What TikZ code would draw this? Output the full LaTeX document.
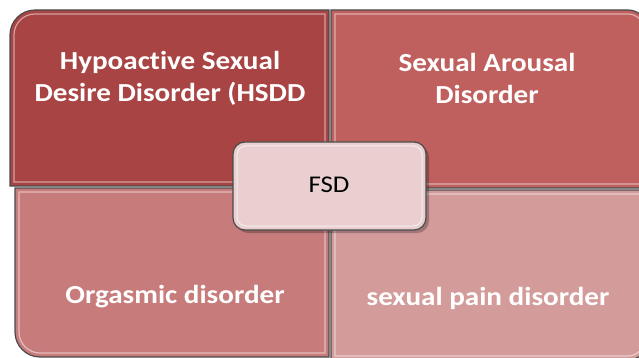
\documentclass[tikz,border=0pt]{standalone}
\usepackage{fontspec}
\setmainfont{Carlito}[FakeStretch=1.12, Ligatures=NoCommon]
\definecolor{cTL}{HTML}{A84443}
\definecolor{cTR}{HTML}{BF605F}
\definecolor{cBL}{HTML}{C77B7B}
\definecolor{cBR}{HTML}{D49B9B}
\definecolor{cC}{HTML}{E9CFD0}
\definecolor{edge}{HTML}{4A4A4A}
\tikzset{
  quad/.style={draw=edge, line width=1.2pt},
  hilite/.style={draw=white, draw opacity=0.5, line width=1.2pt},
  qtext/.style={text=white, font=\bfseries\fontsize{26}{32}\selectfont, align=center, inner sep=0pt},
  ctext/.style={text=black, font=\fontsize{24}{28}\selectfont, inner sep=0pt},
}
\begin{document}
\begin{tikzpicture}[x=1pt,y=-1pt]
\useasboundingbox (0,0) rectangle (639,358);
\clip (0,0) rectangle (639,358);
% top-left
\path[quad, fill=cTL] (10,186) [rounded corners=25pt] -- (10,10) [sharp corners] -- (329,10) -- (329,186) -- cycle;
\draw[hilite] (14,182) [rounded corners=21pt] -- (14,14) [sharp corners] -- (325,14) -- (325,182) -- cycle;
% top-right
\path[quad, fill=cTR] (331,10) [rounded corners=20pt] -- (648,10) [sharp corners] -- (648,188) -- (331,188) -- cycle;
\draw[hilite] (335,184) -- (335,14) [rounded corners=16pt] -- (644,14) [sharp corners] -- (644,184) -- cycle;
% bottom-left
\path[quad, fill=cBL] (15,188) -- (329,188) -- (329,357) [rounded corners=25pt] -- (15,357) [sharp corners] -- cycle;
\draw[hilite] (19,192) -- (325,192) -- (325,353) [rounded corners=21pt] -- (19,353) [sharp corners] -- cycle;
% bottom-right
\path[quad, fill=cBR] (331,190) -- (648,190) [rounded corners=20pt] -- (648,360) [sharp corners] -- (331,360) -- cycle;
\draw[hilite] (335,194) -- (644,194) [rounded corners=16pt] -- (644,356) [sharp corners] -- (335,356) -- cycle;
% center shadow and box
\fill[black, opacity=0.25, rounded corners=12pt] (236,145) rectangle (429,233);
\path[draw=edge, line width=1.2pt, fill=cC, rounded corners=12pt] (233,142) rectangle (426,230);
\draw[white, opacity=0.6, line width=1pt, rounded corners=9pt] (237,146) rectangle (422,226);
% texts
\node[qtext] (tl) at (170,78) {Hypoactive Sexual\\Desire Disorder (HSDD};
\node[qtext] (tr) at (487,78) {Sexual Arousal\\Disorder};
\node[qtext, anchor=base] (bl) at (175,303) {Orgasmic disorder};
\node[qtext, anchor=base] (br) at (488,305) {sexual pain disorder};
\node[ctext, anchor=base] (fsd) at (329,193) {FSD};
\end{tikzpicture}
\end{document}
